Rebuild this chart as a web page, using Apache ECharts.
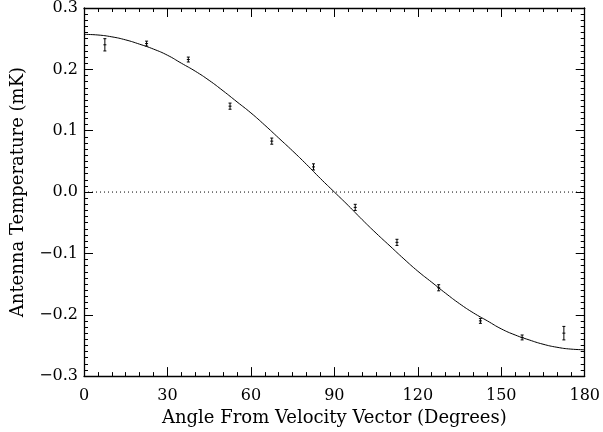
<!DOCTYPE html>
<html>
<head>
<meta charset="utf-8">
<script src="https://cdn.jsdelivr.net/npm/echarts@6/dist/echarts.min.js"></script>
<style>html,body{margin:0;padding:0;background:#fff;}#c{width:603px;height:432px;}</style>
</head>
<body>
<div id="c"></div>
<script>
// Measured data points (angle in degrees, temperature in mK, error half-width)
var angles = [7.5, 22.5, 37.5, 52.5, 67.5, 82.5, 97.5, 112.5, 127.5, 142.5, 157.5, 172.5];
var temps  = [0.240, 0.242, 0.216, 0.140, 0.083, 0.041, -0.025, -0.082, -0.156, -0.210, -0.237, -0.230];
var errs   = [0.010, 0.004, 0.004, 0.005, 0.005, 0.005, 0.005, 0.005, 0.005, 0.004, 0.004, 0.011];
// Fitted curve, every 5 degrees
var curveAngles = [0, 5, 10, 15, 20, 25, 30, 35, 40, 45, 50, 55, 60, 65, 70, 75, 80, 85, 90,
                   95, 100, 105, 110, 115, 120, 125, 130, 135, 140, 145, 150, 155, 160, 165, 170, 175, 180];
var curveTemps  = [0.257, 0.256, 0.253, 0.248, 0.241, 0.233, 0.223, 0.210, 0.197, 0.182, 0.165, 0.147, 0.129,
                   0.109, 0.088, 0.067, 0.045, 0.022, 0.000, -0.022, -0.045, -0.067, -0.088, -0.109, -0.129,
                   -0.147, -0.165, -0.182, -0.197, -0.210, -0.223, -0.233, -0.241, -0.248, -0.253, -0.256, -0.257];
var xTicks = [0, 30, 60, 90, 120, 150, 180];
var yTicks = [-0.3, -0.2, -0.1, 0.0, 0.1, 0.2, 0.3];

var FONT = 'DejaVu Serif';
var chart = echarts.init(document.getElementById('c'));

function axisCommon() {
  return {
    axisLine: {show: true, onZero: false, lineStyle: {color: '#000', width: 1.3}},
    axisTick: {show: true, inside: true, length: 9, lineStyle: {color: '#000', width: 1}},
    splitLine: {show: false},
    minorSplitLine: {show: false}
  };
}

var xBase = {type: 'value', min: 0, max: 180, interval: 30};
var yBase = {type: 'value', min: -0.3, max: 0.3, interval: 0.1};

var errData = angles.map(function (a, i) { return [a, temps[i], errs[i]]; });
var curveData = curveAngles.map(function (a, i) { return [a, curveTemps[i]]; });
var zeroData = [[0, 0], [180, 0]];

var option = {
  animation: false,
  backgroundColor: '#fff',
  grid: {left: 84, right: 15, top: 7, bottom: 55, containLabel: false},
  xAxis: [
    Object.assign({}, xBase, axisCommon(), {
      position: 'bottom',
      minorTick: {show: true, splitNumber: 6, length: 4, lineStyle: {color: '#000'}},
      axisLabel: {show: true, color: '#000', fontFamily: FONT, fontSize: 16, margin: 12,
        formatter: function (v) { return xTicks.indexOf(v) >= 0 ? String(v) : ''; }},
      name: 'Angle From Velocity Vector (Degrees)',
      nameLocation: 'middle', nameGap: 32,
      nameTextStyle: {color: '#000', fontFamily: FONT, fontSize: 18}
    }),
    Object.assign({}, xBase, axisCommon(), {
      position: 'top',
      minorTick: {show: true, splitNumber: 6, length: 4, lineStyle: {color: '#000'}},
      axisLabel: {show: false}
    })
  ],
  yAxis: [
    Object.assign({}, yBase, axisCommon(), {
      position: 'left',
      minorTick: {show: true, splitNumber: 10, length: 4, lineStyle: {color: '#000'}},
      axisLabel: {show: true, color: '#000', fontFamily: FONT, fontSize: 16, margin: 6,
        formatter: function (v) {
          var r = Math.round(v * 10) / 10;
          var s = Math.abs(r).toFixed(1);
          return (r < 0 ? '\u2212' : '') + s;
        }},
      name: 'Antenna Temperature (mK)',
      nameLocation: 'middle', nameGap: 57,
      nameTextStyle: {color: '#000', fontFamily: FONT, fontSize: 18}
    }),
    Object.assign({}, yBase, axisCommon(), {
      position: 'right',
      minorTick: {show: true, splitNumber: 10, length: 4, lineStyle: {color: '#000'}},
      axisLabel: {show: false}
    })
  ],
  series: [
    {
      type: 'line',
      data: zeroData,
      showSymbol: false,
      lineStyle: {color: '#000', type: [1, 3], width: 1},
      silent: true,
      z: 1
    },
    {
      type: 'line',
      data: curveData,
      smooth: true,
      showSymbol: false,
      lineStyle: {color: '#000', width: 1},
      z: 2
    },
    {
      type: 'custom',
      data: errData,
      renderItem: function (params, api) {
        var x = api.value(0), y = api.value(1), e = api.value(2);
        var pc = api.coord([x, y]);
        var pl = api.coord([x, y - e]);
        var ph = api.coord([x, y + e]);
        var cw = 1.5;
        var st = {stroke: '#000', lineWidth: 1};
        return {
          type: 'group',
          children: [
            {type: 'line', shape: {x1: pc[0], y1: ph[1], x2: pc[0], y2: pl[1]}, style: st},
            {type: 'line', shape: {x1: pc[0] - cw, y1: ph[1], x2: pc[0] + cw, y2: ph[1]}, style: st},
            {type: 'line', shape: {x1: pc[0] - cw, y1: pl[1], x2: pc[0] + cw, y2: pl[1]}, style: st},
            {type: 'line', shape: {x1: pc[0] - cw, y1: pc[1], x2: pc[0] + cw, y2: pc[1]}, style: st}
          ]
        };
      },
      z: 3
    }
  ]
};
chart.setOption(option);
</script>
</body>
</html>
